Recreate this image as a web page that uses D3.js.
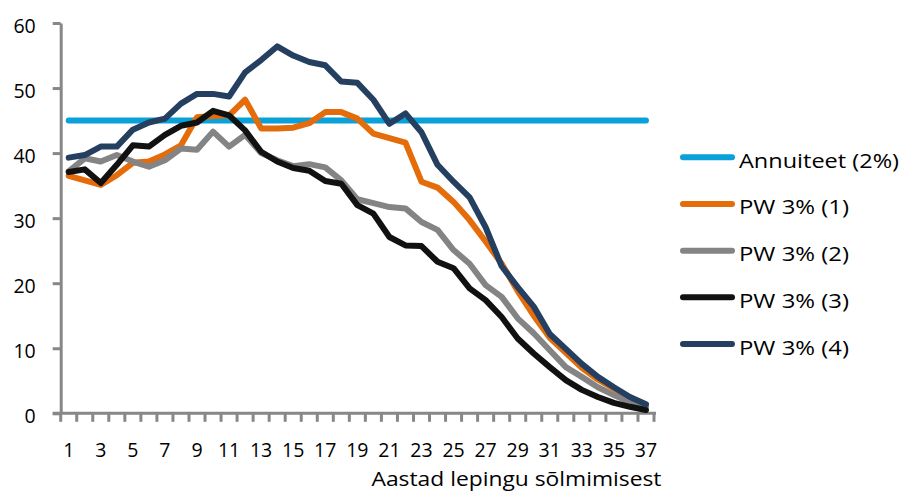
<!DOCTYPE html>
<html>
<head>
<meta charset="utf-8">
<script src="https://cdn.jsdelivr.net/npm/d3@7"></script>
<style>
  html, body { margin: 0; padding: 0; background: #fff; }
  svg { display: block; }
  text { font-family: "Open Sans", sans-serif; fill: #000; }
</style>
</head>
<body>
<svg id="chart" width="901" height="499"></svg>
<script>
// ---- data ----
const years = d3.range(1, 38);
const xTickLabels = years.filter(d => d % 2 === 1);
const yTicks = [0, 10, 20, 30, 40, 50, 60];
const seriesNames = ["Annuiteet (2%)", "PW 3% (1)", "PW 3% (2)", "PW 3% (3)", "PW 3% (4)"];
const seriesColors = ["#0aa0d8", "#e46c0a", "#848484", "#111111", "#243f60"];

const annuiteet = years.map(() => 45);
const pw1 = [36.5, 35.8, 35.1, 36.6, 38.5, 38.7, 39.8, 41.2, 45.5, 45.7, 45.8, 48.2, 43.8, 43.8, 43.9, 44.6, 46.3, 46.3, 45.3, 43.0,
             42.3, 41.6, 35.6, 34.7, 32.5, 29.7, 26.4, 23.0, 18.8, 15.0, 11.6, 9.3, 7.0, 5.2, 3.8, 2.4, 1.3];
const pw2 = [37.2, 39.2, 38.7, 39.7, 38.7, 37.9, 38.9, 40.7, 40.5, 43.3, 41.0, 42.8, 40.0, 38.9, 38.0, 38.3, 37.8, 35.8, 32.9, 32.3,
             31.7, 31.5, 29.4, 28.2, 25.1, 23.0, 19.7, 17.9, 14.6, 12.3, 9.7, 7.1, 5.6, 4.0, 2.8, 1.7, 1.0];
const pw3 = [37.1, 37.5, 35.4, 38.2, 41.2, 41.0, 42.8, 44.2, 44.7, 46.5, 45.8, 43.5, 40.2, 38.7, 37.7, 37.3, 35.7, 35.3, 32.0, 30.7,
             27.1, 25.8, 25.7, 23.3, 22.3, 19.2, 17.4, 14.8, 11.5, 9.2, 7.1, 5.1, 3.6, 2.5, 1.6, 1.0, 0.5];
const pw4 = [39.3, 39.7, 41.0, 41.0, 43.6, 44.7, 45.3, 47.6, 49.1, 49.1, 48.7, 52.4, 54.3, 56.4, 55.0, 54.0, 53.5, 51.0, 50.8, 48.2,
             44.5, 46.1, 43.2, 38.2, 35.6, 33.2, 28.6, 22.6, 19.4, 16.4, 12.2, 9.9, 7.6, 5.6, 4.0, 2.5, 1.4];
const seriesValues = [annuiteet, pw1, pw2, pw3, pw4];
const xAxisTitle = "Aastad lepingu sõlmimisest";

// ---- layout ----
const svg = d3.select("#chart");
const plot = { left: 60.7, right: 654, top: 23, bottom: 413.3 };
const axisColor = "#878787";
const fontSize = 19.5;

const x = d3.scaleBand().domain(years).range([plot.left, plot.right]);
const y = d3.scaleLinear().domain([0, 60]).range([plot.bottom, plot.top]);

// y axis
const yAxis = d3.axisLeft(y).tickValues(yTicks).tickSize(8).tickPadding(17).tickSizeOuter(0);
const gy = svg.append("g").attr("transform", `translate(${plot.left},0)`).call(yAxis);
gy.select(".domain").attr("stroke", axisColor).attr("stroke-width", 3);
gy.selectAll(".tick line").attr("stroke", axisColor).attr("stroke-width", 3);
gy.selectAll(".tick text").attr("font-size", fontSize).attr("dy", null).attr("y", 9)
  .style("font-family", "'Open Sans', sans-serif").attr("fill", "#000");

// x axis: ticks at category boundaries
const boundaries = d3.range(0, years.length + 1).map(i => plot.left + i * x.bandwidth());
const gx = svg.append("g");
gx.append("line")
  .attr("x1", plot.left - 8).attr("x2", plot.right + 2)
  .attr("y1", plot.bottom).attr("y2", plot.bottom)
  .attr("stroke", axisColor).attr("stroke-width", 3);
gx.selectAll("line.tk").data(boundaries).join("line").attr("class", "tk")
  .attr("x1", d => d).attr("x2", d => d)
  .attr("y1", plot.bottom).attr("y2", plot.bottom + 8.5)
  .attr("stroke", axisColor).attr("stroke-width", 3);
gx.selectAll("text").data(xTickLabels).join("text")
  .attr("x", d => x(d) + x.bandwidth() / 2)
  .attr("y", 456.5)
  .attr("text-anchor", "middle")
  .attr("font-size", fontSize)
  .text(d => d);

// axis title
svg.append("text")
  .attr("x", 371.5).attr("y", 485.5)
  .attr("font-size", fontSize)
  .attr("textLength", 290)
  .attr("lengthAdjust", "spacingAndGlyphs")
  .text(xAxisTitle);

// lines
const line = d3.line()
  .x((d, i) => x(years[i]) + x.bandwidth() / 2)
  .y(d => y(d));
svg.append("g").selectAll("path").data(seriesValues).join("path")
  .attr("d", d => line(d))
  .attr("fill", "none")
  .attr("stroke", (d, i) => seriesColors[i])
  .attr("stroke-width", 6)
  .attr("stroke-linejoin", "round")
  .attr("stroke-linecap", "round");

// legend
const legendY = d3.scalePoint().domain(seriesNames).range([157.3, 344]);
const lg = svg.append("g").selectAll("g").data(seriesNames).join("g")
  .attr("transform", d => `translate(0,${legendY(d)})`);
lg.append("line")
  .attr("x1", 683).attr("x2", 732).attr("y1", 0).attr("y2", 0)
  .attr("stroke", (d, i) => seriesColors[i])
  .attr("stroke-width", 6)
  .attr("stroke-linecap", "round");
lg.append("text")
  .attr("x", 739).attr("y", 10.5)
  .attr("font-size", fontSize)
  .attr("textLength", (d, i) => i === 0 ? 160 : 110)
  .attr("lengthAdjust", "spacingAndGlyphs")
  .text(d => d);
</script>
</body>
</html>
